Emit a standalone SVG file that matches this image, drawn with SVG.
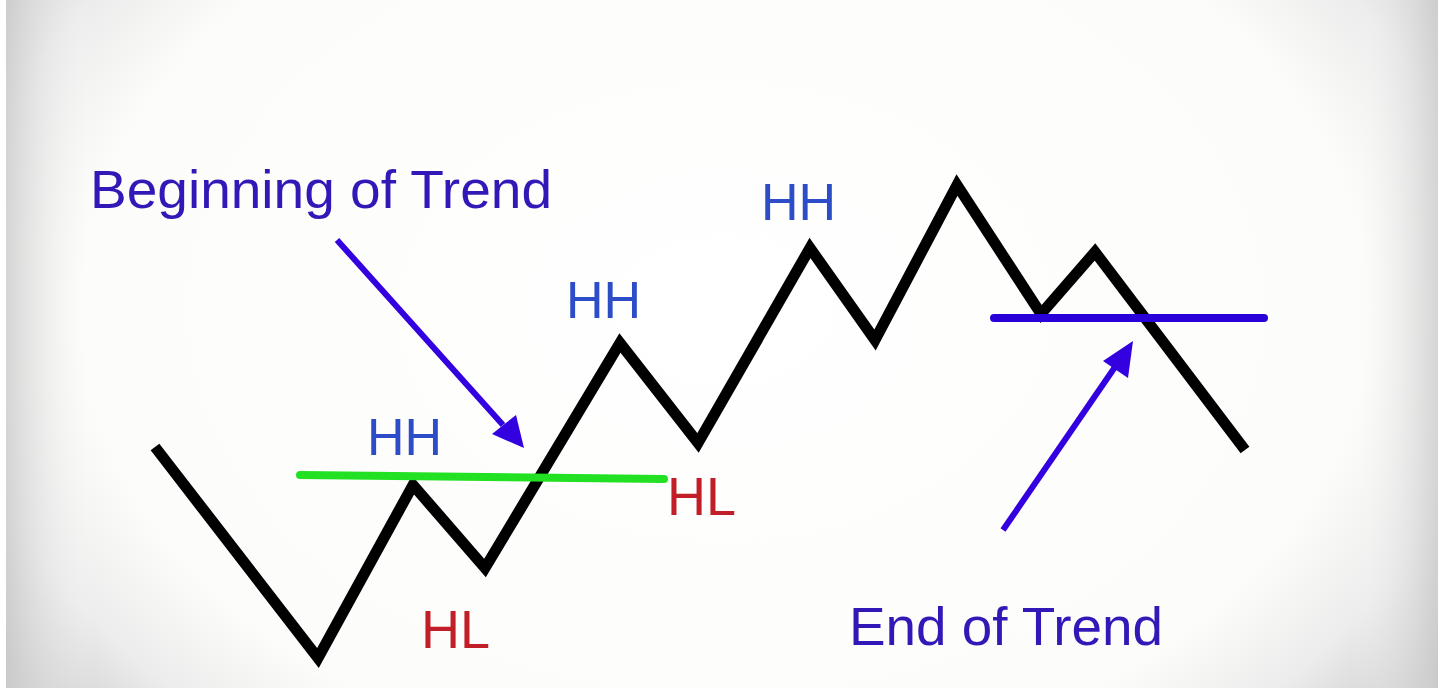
<svg xmlns="http://www.w3.org/2000/svg" width="1448" height="691" viewBox="0 0 1448 691">
<defs>
<radialGradient id="bg" cx="0.5" cy="0.45" r="0.6" gradientTransform="translate(0.5 0.45) scale(1 1.5) translate(-0.5 -0.45)">
<stop offset="0" stop-color="#ffffff"/>
<stop offset="0.74" stop-color="#fcfcfa"/>
<stop offset="0.88" stop-color="#ececec"/>
<stop offset="1" stop-color="#cfcfcf"/>
</radialGradient>
<linearGradient id="lg" x1="0" y1="0" x2="1" y2="0">
<stop offset="0" stop-color="#c8c8c8" stop-opacity="0.7"/>
<stop offset="1" stop-color="#ffffff" stop-opacity="0"/>
</linearGradient>
<linearGradient id="rg" x1="1" y1="0" x2="0" y2="0">
<stop offset="0" stop-color="#c8c8c8" stop-opacity="0.7"/>
<stop offset="1" stop-color="#ffffff" stop-opacity="0"/>
</linearGradient>
<style>
.lbl{font-family:"Liberation Sans",Arial,sans-serif;}
.hh{fill:#2d4cc8;font-size:52px;}
.hl{fill:#c21e28;font-size:54px;}
.cap{fill:#3318b8;font-size:54px;}
.arr{stroke:#3300e0;stroke-width:6;fill:none;}
.arrh{fill:#3300e0;}
</style>
</defs>
<rect width="1448" height="691" fill="url(#bg)"/>
<rect x="6" y="0" width="90" height="688" fill="url(#lg)"/>
<rect x="1350" y="0" width="88" height="688" fill="url(#rg)"/>
<rect x="0" y="0" width="6" height="691" fill="#ffffff"/>
<rect x="1438" y="0" width="10" height="691" fill="#ffffff"/>
<rect x="0" y="688" width="1448" height="3" fill="#ffffff"/>
<g id="price">
<polyline points="155,447 318,658 413,485 485,568 620,343 698,443 810,248 875,340 957,185 1041,314 1095,252 1245,450" fill="none" stroke="#000" stroke-width="11" stroke-linejoin="miter" stroke-miterlimit="3"/>
</g>
<g id="support">
<line x1="300" y1="475" x2="664" y2="479" stroke="#22e022" stroke-width="8" stroke-linecap="round"/>
</g>
<g id="breakline">
<line x1="994" y1="318" x2="1264" y2="318" stroke="#2a00d8" stroke-width="8" stroke-linecap="round"/>
</g>
<g id="connectors">
<line class="arr" x1="337" y1="240" x2="503" y2="425"/>
<polygon class="arrh" points="524,448 492,434 516,415"/>
<line class="arr" x1="1003" y1="530" x2="1115" y2="367"/>
<polygon class="arrh" points="1133,341 1128,378 1103,361"/>
</g>
<g id="labels">
<text class="lbl cap" x="90" y="208" textLength="462" lengthAdjust="spacingAndGlyphs">Beginning of Trend</text>
<text class="lbl cap" x="849" y="645" textLength="314" lengthAdjust="spacingAndGlyphs">End of Trend</text>
<text class="lbl hh" x="367" y="455">HH</text>
<text class="lbl hh" x="566" y="318">HH</text>
<text class="lbl hh" x="761" y="220">HH</text>
<text class="lbl hl" x="421" y="648">HL</text>
<text class="lbl hl" x="667" y="515">HL</text>
</g>
</svg>
